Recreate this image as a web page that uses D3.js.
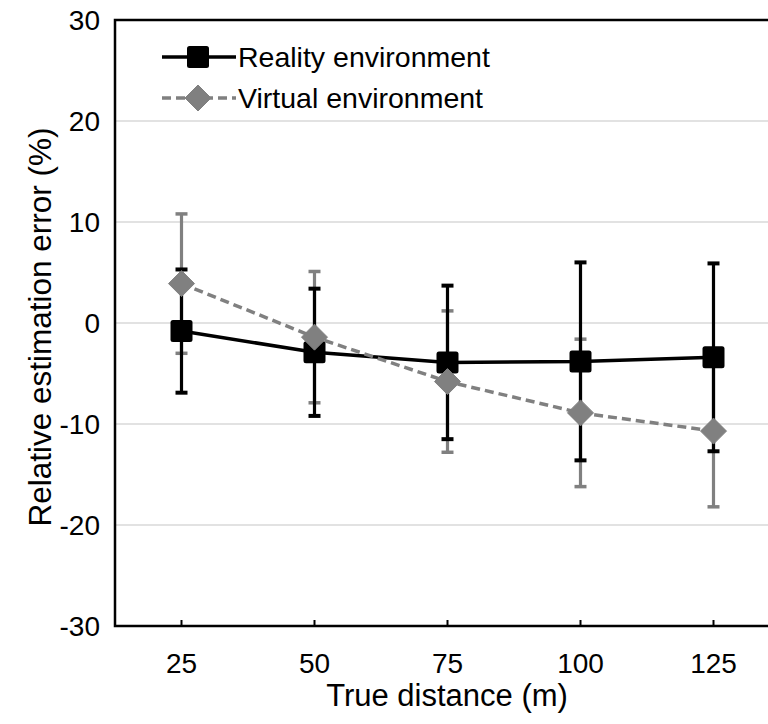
<!DOCTYPE html>
<html>
<head>
<meta charset="utf-8">
<script src="https://cdn.jsdelivr.net/npm/d3@7"></script>
<style>
  html, body { margin: 0; padding: 0; background: #fff; }
  svg { display: block; font-family: "Liberation Sans", Arial, sans-serif; }
</style>
</head>
<body>
<svg id="chart" width="768" height="724"></svg>
<script>
// True distances (m)
const distances = ["25", "50", "75", "100", "125"];
// Mean relative estimation error (%) and standard deviation, real world
const realityMean = [-0.8, -2.9, -3.9, -3.8, -3.4];
const realitySD   = [6.1, 6.3, 7.6, 9.8, 9.3];
// Mean relative estimation error (%) and standard deviation, virtual world
const virtualMean = [3.9, -1.4, -5.8, -8.9, -10.7];
const virtualSD   = [6.9, 6.5, 7.0, 7.3, 7.5];
// Y-axis ticks
const yTicks = [-30, -20, -10, 0, 10, 20, 30];

const svg = d3.select("#chart");
const plotLeft = 115, plotTop = 20, plotBottom = 626;
const bandW = 133;

const x = d3.scaleBand()
  .domain(distances)
  .range([plotLeft, plotLeft + bandW * distances.length]);
const cx = d => x(d) + x.bandwidth() / 2;

const y = d3.scaleLinear().domain([-30, 30]).range([plotBottom, plotTop]);

// horizontal gridlines
svg.append("g")
  .selectAll("line")
  .data(yTicks.filter(t => t > -30 && t < 30))
  .join("line")
  .attr("x1", plotLeft).attr("x2", 768)
  .attr("y1", d => y(d)).attr("y2", d => y(d))
  .attr("stroke", "#d9d9d9").attr("stroke-width", 1.5);

// y-axis tick labels
svg.append("g")
  .selectAll("text")
  .data(yTicks)
  .join("text")
  .attr("x", plotLeft - 15)
  .attr("y", d => y(d))
  .attr("dy", "0.36em")
  .attr("text-anchor", "end")
  .attr("font-size", 28)
  .attr("fill", "#000")
  .text(d => d);

// x-axis tick labels
svg.append("g")
  .selectAll("text")
  .data(distances)
  .join("text")
  .attr("x", d => cx(d))
  .attr("y", 673)
  .attr("text-anchor", "middle")
  .attr("font-size", 28)
  .attr("fill", "#000")
  .text(d => d);

// x-axis tick marks
svg.append("g")
  .selectAll("line")
  .data(distances)
  .join("line")
  .attr("x1", d => cx(d)).attr("x2", d => cx(d))
  .attr("y1", plotBottom).attr("y2", plotBottom - 6)
  .attr("stroke", "#000").attr("stroke-width", 2);

// frame: top, left, bottom
svg.append("path")
  .attr("d", `M768,${plotTop}H${plotLeft}V${plotBottom}H768`)
  .attr("fill", "none")
  .attr("stroke", "#000")
  .attr("stroke-width", 2.5);

// axis titles
svg.append("text")
  .attr("x", 447).attr("y", 706)
  .attr("text-anchor", "middle")
  .attr("font-size", 31)
  .text("True distance (m)");

svg.append("text")
  .attr("transform", `translate(51,${y(0) + 4}) rotate(-90)`)
  .attr("text-anchor", "middle")
  .attr("font-size", 31.5)
  .text("Relative estimation error (%)");

const series = [
  { name: "Virtual environment", mean: virtualMean, sd: virtualSD, color: "#808080", dash: "9,5", capW: 3.5 },
  { name: "Reality environment", mean: realityMean, sd: realitySD, color: "#000000", dash: null, capW: 4 }
];

// error bars (virtual beneath reality)
series.forEach(s => {
  const g = svg.append("g");
  distances.forEach((d, i) => {
    const hi = y(s.mean[i] + s.sd[i]), lo = y(s.mean[i] - s.sd[i]);
    g.append("line")
      .attr("x1", cx(d)).attr("x2", cx(d))
      .attr("y1", hi).attr("y2", lo)
      .attr("stroke", s.color).attr("stroke-width", 3.2);
    [hi, lo].forEach(v => g.append("line")
      .attr("x1", cx(d) - 6).attr("x2", cx(d) + 6)
      .attr("y1", v).attr("y2", v)
      .attr("stroke", s.color).attr("stroke-width", s.capW));
  });
});

const line = d3.line().x((v, i) => cx(distances[i])).y(v => y(v));

// connecting lines
[series[1], series[0]].forEach(s => {
  svg.append("path")
    .attr("d", line(s.mean))
    .attr("fill", "none")
    .attr("stroke", s.color)
    .attr("stroke-width", 3.5)
    .attr("stroke-dasharray", s.dash);
});

const sq = 22, dia = 13;
const drawSquare = (g, px, py) => g.append("rect")
  .attr("x", px - sq / 2).attr("y", py - sq / 2)
  .attr("width", sq).attr("height", sq)
  .attr("rx", 2.5)
  .attr("fill", "#000");
const drawDiamond = (g, px, py) => g.append("path")
  .attr("d", `M${px},${py - dia}L${px + dia},${py}L${px},${py + dia}L${px - dia},${py}Z`)
  .attr("fill", "#808080")
  .attr("stroke", "#808080")
  .attr("stroke-width", 1)
  .attr("stroke-linejoin", "round");

// markers
const mk = svg.append("g");
realityMean.forEach((v, i) => drawSquare(mk, cx(distances[i]), y(v)));
virtualMean.forEach((v, i) => drawDiamond(mk, cx(distances[i]), y(v)));

// legend
const lg = svg.append("g");
const legendRows = [
  { s: series[1], yy: 57, marker: drawSquare },
  { s: series[0], yy: 98, marker: drawDiamond }
];
legendRows.forEach(r => {
  lg.append("line")
    .attr("x1", 162).attr("x2", 236)
    .attr("y1", r.yy).attr("y2", r.yy)
    .attr("stroke", r.s.color).attr("stroke-width", 3.5)
    .attr("stroke-dasharray", r.s.dash);
  r.marker(lg, 198, r.yy);
  lg.append("text")
    .attr("x", 238).attr("y", r.yy)
    .attr("dy", "0.36em")
    .attr("font-size", 28.5)
    .attr("fill", "#000")
    .text(r.s.name);
});
</script>
</body>
</html>
